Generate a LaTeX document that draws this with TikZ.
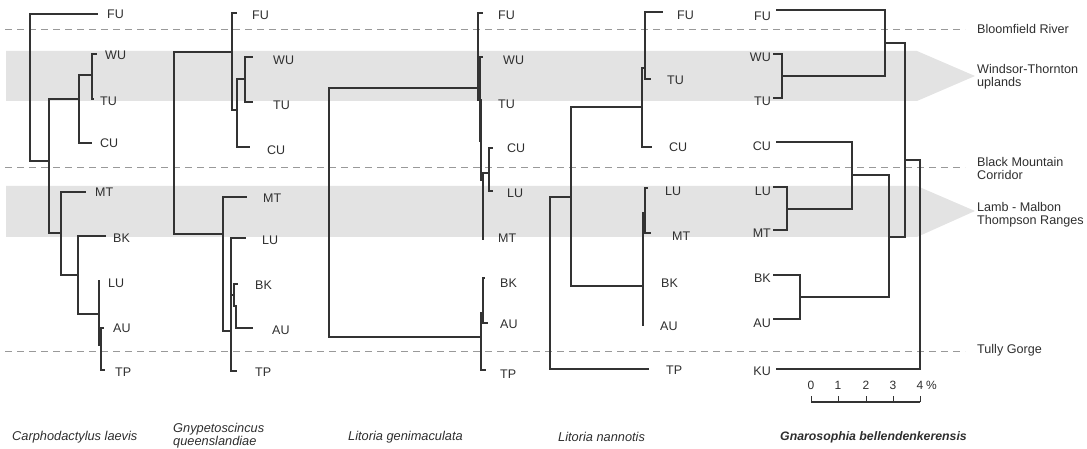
\documentclass[tikz,border=0pt]{standalone}
\usepackage{fontspec}
\setmainfont{Liberation Sans}
\begin{document}
\begin{tikzpicture}[x=1pt,y=-1pt,
  br/.style={line width=1.15pt, draw=black!80, line cap=rect},
  thk/.style={line width=2.4pt, draw=black!80},
  band/.style={fill=black!11},
  dsh/.style={draw=black!40, line width=0.9pt, dash pattern=on 7pt off 5pt},
  lab/.style={font=\fontsize{12.5}{12.5}\selectfont, text=black!82, inner sep=0pt},
  reg/.style={lab, anchor=west, align=left, font=\fontsize{12.6}{13}\selectfont},
  sp/.style={lab, anchor=west, align=left, font=\fontsize{12.8}{13}\selectfont\itshape},
  sc/.style={lab, font=\fontsize{12}{12}\selectfont}]
\newcommand\tedge[2]{\draw[br] (#1) -| (#2);}
\useasboundingbox (0,0) rectangle (1087,449);
% ---- background bands and dashed boundaries
\fill[band] (6,51) -- (917,51) -- (975,76) -- (917,101) -- (6,101) -- cycle;
\fill[band] (6,186) -- (917,186) -- (975,211) -- (917,237) -- (6,237) -- cycle;
\draw[dsh] (5,29) -- (965,29);
\draw[dsh] (5,167) -- (965,167);
\draw[dsh] (5,351) -- (965,351);
% ---- region labels
\node[reg] (rBR) at (977,29) {Bloomfield River};
\node[reg] (rWT) at (977,77) {Windsor-Thornton\\uplands};
\node[reg] (rBM) at (977,168) {Black Mountain\\Corridor};
\node[reg] (rLM) at (977,214.5) {Lamb - Malbon\\Thompson Ranges};
\node[reg] (rTG) at (977,350) {Tully Gorge};
% ================= Tree 1: Carphodactylus laevis
\coordinate (t1FU) at (97,14);
\coordinate (t1WU) at (96,54);
\coordinate (t1TU) at (93,99);
\coordinate (t1CU) at (91,143);
\coordinate (t1MT) at (85,192);
\coordinate (t1BK) at (105,236);
\coordinate (t1LU) at (99.5,281);
\coordinate (t1AU) at (103,328);
\coordinate (t1TP) at (104,370);
\coordinate (i1WT) at (92,75);
\coordinate (i1U) at (79,99);
\coordinate (i1D) at (101,345);
\coordinate (i1C) at (99,314);
\coordinate (i1B) at (78,275);
\coordinate (i1L) at (61,233);
\coordinate (i1A) at (49,161);
\coordinate (i1R) at (30,161);
\tedge{t1WU}{i1WT}\tedge{t1TU}{i1WT}\tedge{i1WT}{i1U}\tedge{t1CU}{i1U}
\tedge{i1U}{i1A}\tedge{t1AU}{i1D}\tedge{t1TP}{i1D}\tedge{i1D}{i1C}
\tedge{t1LU}{i1C}\tedge{i1C}{i1B}\tedge{t1BK}{i1B}\tedge{i1B}{i1L}
\tedge{t1MT}{i1L}\tedge{i1L}{i1A}\tedge{i1A}{i1R}\tedge{t1FU}{i1R}
\node[lab,anchor=west] (l1FU) at (107,14) {FU};
\node[lab,anchor=west] (l1WU) at (105,55) {WU};
\node[lab,anchor=west] (l1TU) at (100,101) {TU};
\node[lab,anchor=west] (l1CU) at (100,143) {CU};
\node[lab,anchor=west] (l1MT) at (95,192) {MT};
\node[lab,anchor=west] (l1BK) at (113,238) {BK};
\node[lab,anchor=west] (l1LU) at (108,283) {LU};
\node[lab,anchor=west] (l1AU) at (113,328) {AU};
\node[lab,anchor=west] (l1TP) at (115,372) {TP};
% ================= Tree 2: Gnypetoscincus queenslandiae
\coordinate (t2FU) at (236,13);
\coordinate (t2WU) at (252,57);
\coordinate (t2TU) at (252,102);
\coordinate (t2CU) at (249,147);
\coordinate (t2MT) at (246,197);
\coordinate (t2LU) at (245,238);
\coordinate (t2BK) at (237,284);
\coordinate (t2AU) at (252,328);
\coordinate (t2TP) at (236,371);
\coordinate (i2WT) at (245,79);
\coordinate (i2a) at (237,110);
\coordinate (i2U) at (232,52);
\coordinate (i2d) at (236,306);
\coordinate (i2c) at (234,295);
\coordinate (i2b) at (231,331);
\coordinate (i2L) at (223,234);
\coordinate (i2R) at (174,143);
\tedge{t2WU}{i2WT}\tedge{t2TU}{i2WT}\tedge{i2WT}{i2a}\tedge{t2CU}{i2a}
\tedge{i2a}{i2U}\tedge{t2FU}{i2U}\tedge{i2U}{i2R}
\tedge{t2AU}{i2d}\tedge{i2d}{i2c}\tedge{t2BK}{i2c}\tedge{i2c}{i2b}
\tedge{t2LU}{i2b}\tedge{t2TP}{i2b}\tedge{i2b}{i2L}\tedge{t2MT}{i2L}\tedge{i2L}{i2R}
\draw[thk,line width=2pt] (234,284) -- (234,306);
\node[lab,anchor=west] (l2FU) at (252,15) {FU};
\node[lab,anchor=west] (l2WU) at (273,60) {WU};
\node[lab,anchor=west] (l2TU) at (273,105) {TU};
\node[lab,anchor=west] (l2CU) at (267,150) {CU};
\node[lab,anchor=west] (l2MT) at (263,198) {MT};
\node[lab,anchor=west] (l2LU) at (262,240) {LU};
\node[lab,anchor=west] (l2BK) at (255,285) {BK};
\node[lab,anchor=west] (l2AU) at (272,330) {AU};
\node[lab,anchor=west] (l2TP) at (255,372) {TP};
% ================= Tree 3: Litoria genimaculata
\coordinate (t3FU) at (482,13);
\coordinate (t3WU) at (482,57);
\coordinate (t3TU) at (481,142);
\coordinate (t3CU) at (492,148);
\coordinate (t3LU) at (492,191);
\coordinate (t3MT) at (483,239);
\coordinate (t3BK) at (484,278);
\coordinate (t3AU) at (487,323);
\coordinate (t3TP) at (485,370);
\coordinate (i3CL) at (489,173);
\coordinate (i3b) at (483,180);
\coordinate (i3a) at (481,100);
\coordinate (i3U) at (478,88);
\coordinate (i3b2) at (483,313);
\coordinate (i3L) at (481,337);
\coordinate (i3R) at (329,200);
\tedge{t3CU}{i3CL}\tedge{t3LU}{i3CL}\tedge{i3CL}{i3b}\tedge{t3MT}{i3b}
\tedge{i3b}{i3a}\tedge{t3TU}{i3a}\tedge{i3a}{i3U}\tedge{t3FU}{i3U}\tedge{t3WU}{i3U}
\tedge{t3BK}{i3b2}\tedge{t3AU}{i3b2}\tedge{i3b2}{i3L}\tedge{t3TP}{i3L}
\tedge{i3U}{i3R}\tedge{i3L}{i3R}
\draw[thk,line width=2pt] (479.5,57) -- (479.5,142);
\draw[thk,line width=2pt] (483,303) -- (483,323);
\node[lab,anchor=west] (l3FU) at (498,15) {FU};
\node[lab,anchor=west] (l3WU) at (503,60) {WU};
\node[lab,anchor=west] (l3TU) at (498,104) {TU};
\node[lab,anchor=west] (l3CU) at (507,148) {CU};
\node[lab,anchor=west] (l3LU) at (507,193) {LU};
\node[lab,anchor=west] (l3MT) at (498,238) {MT};
\node[lab,anchor=west] (l3BK) at (500,283) {BK};
\node[lab,anchor=west] (l3AU) at (500,324) {AU};
\node[lab,anchor=west] (l3TP) at (500,374) {TP};
% ================= Tree 4: Litoria nannotis
\coordinate (t4FU) at (662,12);
\coordinate (t4TU) at (650,79);
\coordinate (t4CU) at (651,147);
\coordinate (t4LU) at (647,188);
\coordinate (t4MT) at (650,233);
\coordinate (t4BK) at (643,280);
\coordinate (t4AU) at (643,325);
\coordinate (t4TP) at (648,369);
\coordinate (i4FT) at (645,68);
\coordinate (i4U) at (642,107);
\coordinate (i4c) at (645,213);
\coordinate (i4b) at (643,245);
\coordinate (i4L) at (643,286);
\coordinate (i4A) at (571,197);
\coordinate (i4R) at (550,197);
\tedge{t4FU}{i4FT}\tedge{t4TU}{i4FT}\tedge{i4FT}{i4U}\tedge{t4CU}{i4U}
\tedge{t4LU}{i4c}\tedge{t4MT}{i4c}\tedge{i4c}{i4b}\tedge{t4BK}{i4b}
\tedge{i4b}{i4L}\tedge{t4AU}{i4L}\tedge{i4U}{i4A}\tedge{i4L}{i4A}
\tedge{i4A}{i4R}\tedge{t4TP}{i4R}
\draw[thk,line width=2pt] (645,213) -- (645,233);
\draw[thk,line width=2pt] (643,245) -- (643,280);
\node[lab,anchor=west] (l4FU) at (677,15) {FU};
\node[lab,anchor=west] (l4TU) at (667,80) {TU};
\node[lab,anchor=west] (l4CU) at (669,147) {CU};
\node[lab,anchor=west] (l4LU) at (665,191) {LU};
\node[lab,anchor=west] (l4MT) at (672,236) {MT};
\node[lab,anchor=west] (l4BK) at (661,283) {BK};
\node[lab,anchor=west] (l4AU) at (660,326) {AU};
\node[lab,anchor=west] (l4TP) at (666,370) {TP};
% ================= Tree 5: Gnarosophia bellendenkerensis
\coordinate (t5FU) at (777,10);
\coordinate (t5WU) at (774,54);
\coordinate (t5TU) at (774,98);
\coordinate (t5CU) at (777,142);
\coordinate (t5LU) at (774,187);
\coordinate (t5MT) at (774,230);
\coordinate (t5BK) at (774,275);
\coordinate (t5AU) at (774,319);
\coordinate (t5KU) at (777,369);
\coordinate (i5WT) at (782,76);
\coordinate (i5FWT) at (885,43);
\coordinate (i5LM) at (787,209);
\coordinate (i5CLM) at (852,175);
\coordinate (i5BA) at (800,297);
\coordinate (i5S) at (889,237);
\coordinate (i5in) at (905,160);
\coordinate (i5R) at (920,300);
\tedge{t5WU}{i5WT}\tedge{t5TU}{i5WT}\tedge{t5FU}{i5FWT}\tedge{i5WT}{i5FWT}
\tedge{t5LU}{i5LM}\tedge{t5MT}{i5LM}\tedge{t5CU}{i5CLM}\tedge{i5LM}{i5CLM}
\tedge{t5BK}{i5BA}\tedge{t5AU}{i5BA}\tedge{i5CLM}{i5S}\tedge{i5BA}{i5S}
\tedge{i5FWT}{i5in}\tedge{i5S}{i5in}\tedge{i5in}{i5R}\tedge{t5KU}{i5R}
\node[lab,anchor=east] (l5FU) at (771,16) {FU};
\node[lab,anchor=east] (l5WU) at (771,57) {WU};
\node[lab,anchor=east] (l5TU) at (771,101) {TU};
\node[lab,anchor=east] (l5CU) at (771,146) {CU};
\node[lab,anchor=east] (l5LU) at (771,191) {LU};
\node[lab,anchor=east] (l5MT) at (771,233) {MT};
\node[lab,anchor=east] (l5BK) at (771,278) {BK};
\node[lab,anchor=east] (l5AU) at (771,323) {AU};
\node[lab,anchor=east] (l5KU) at (771,371) {KU};
% ---- scale bar
\coordinate (sb0) at (811,402);
\coordinate (sb1) at (838,402);
\coordinate (sb2) at (866,402);
\coordinate (sb3) at (893,402);
\coordinate (sb4) at (920,402);
\draw[br,line cap=butt] (sb0) -- (sb4);
\foreach \s in {sb0,sb1,sb2,sb3,sb4} \draw[br,line width=1pt,line cap=butt] (\s) -- ++(0,-6);
\node[sc] (n0) at (811,385) {0};
\node[sc] (n1) at (838,385) {1};
\node[sc] (n2) at (866,385) {2};
\node[sc] (n3) at (893,385) {3};
\node[sc] (n4) at (920,385) {4};
\node[sc,anchor=west] (npc) at (926,385) {\%};
% ---- species names
\node[sp] (s1) at (12,437) {Carphodactylus laevis};
\node[sp] (s2) at (173,435.5) {Gnypetoscincus\\queenslandiae};
\node[sp] (s3) at (348,437) {Litoria genimaculata};
\node[sp] (s4) at (558,437) {Litoria nannotis};
\node[sp,font=\fontsize{12.3}{13}\selectfont\bfseries\itshape] (s5) at (780,437) {Gnarosophia bellendenkerensis};
\end{tikzpicture}
\end{document}
